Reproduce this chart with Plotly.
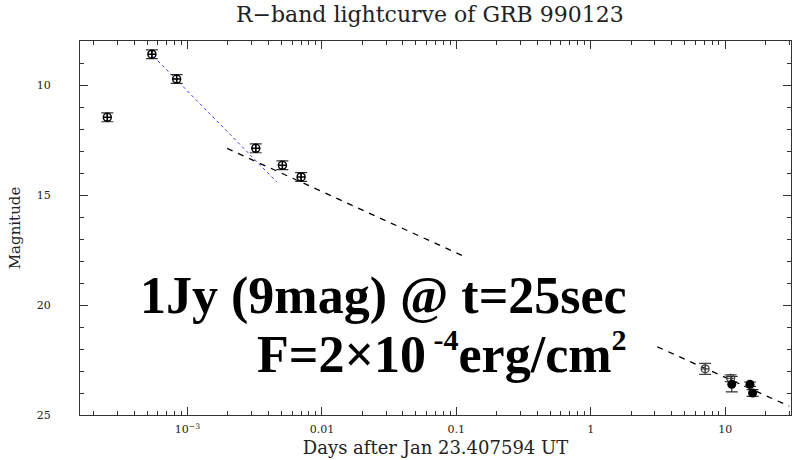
import plotly.graph_objects as go

# ---- data ----
early_t = [2.53e-4, 5.43e-4, 8.3e-4, 3.22e-3, 5.08e-3, 7.0e-3]
early_mag = [11.47, 8.6, 9.73, 12.88, 13.65, 14.18]
early_err = [0.2, 0.2, 0.2, 0.2, 0.2, 0.2]

late_open_t = [7.1, 11.0]
late_open_mag = [22.9, 23.33]
late_open_err = [0.25, 0.15]

late_fill_t = [11.2, 15.3, 16.0]
late_fill_mag = [23.6, 23.6, 24.0]
late_fill_err = [0.35, 0.1, 0.15]

flash_fit_t = [5.6e-4, 4.6e-3]
flash_fit_mag = [8.71, 14.4]

mid_fit_t = [1.97e-3, 0.115]
mid_fit_mag = [12.88, 17.8]

late_fit_t = [3.13, 30.0]
late_fit_mag = [21.9, 24.6]

x_tickvals = [1e-3, 0.01, 0.1, 1, 10]
x_ticktext = ["10<sup>−3</sup>", "0.01", "0.1", "1", "10"]
y_tickvals = [10, 15, 20, 25]

x_minor = [m * 10 ** e for e in range(-4, 2) for m in range(2, 10)]

serif = "DejaVu Serif"

fig = go.Figure()

fig.add_trace(go.Scatter(x=flash_fit_t, y=flash_fit_mag, mode="lines",
                         line=dict(color="#3a3aff", width=1, dash="dot"),
                         showlegend=False))
fig.add_trace(go.Scatter(x=mid_fit_t, y=mid_fit_mag, mode="lines",
                         line=dict(color="black", width=1.3, dash="6px,6px"),
                         showlegend=False))
fig.add_trace(go.Scatter(x=late_fit_t, y=late_fit_mag, mode="lines",
                         line=dict(color="black", width=1.3, dash="6px,6px"),
                         showlegend=False))

fig.add_trace(go.Scatter(x=early_t, y=early_mag, mode="markers",
                         marker=dict(symbol="circle-cross-open", size=8, color="black",
                                     line=dict(width=1.5, color="black")),
                         error_y=dict(type="data", array=early_err, color="#333",
                                      thickness=1.2, width=6),
                         showlegend=False))
fig.add_trace(go.Scatter(x=late_open_t, y=late_open_mag, mode="markers",
                         marker=dict(symbol="circle-cross-open", size=8, color="#444",
                                     line=dict(width=1.2, color="#444")),
                         error_y=dict(type="data", array=late_open_err, color="#444",
                                      thickness=1.2, width=6),
                         showlegend=False))
fig.add_trace(go.Scatter(x=late_fill_t, y=late_fill_mag, mode="markers",
                         marker=dict(symbol="circle", size=9, color="black"),
                         error_y=dict(type="data", array=late_fill_err, color="#333",
                                      thickness=1.2, width=6),
                         showlegend=False))

fig.add_annotation(text="1Jy (9mag) @ t=25sec", xref="paper", yref="paper",
                   x=0.772, y=0.317, xanchor="right", yanchor="middle", showarrow=False,
                   font=dict(family="Liberation Serif", size=52, color="black", weight="bold"))
fig.add_annotation(text="F=2×10<sup><span style=\"font-size:30px\"> -4</span></sup>erg/cm<sup><span style=\"font-size:30px\">2</span></sup>",
                   xref="paper", yref="paper",
                   x=0.772, y=0.166, xanchor="right", yanchor="middle", showarrow=False,
                   font=dict(family="Liberation Serif", size=52, color="black", weight="bold"))

fig.update_layout(
    width=796, height=460,
    margin=dict(l=80, r=5, t=41, b=45),
    paper_bgcolor="white", plot_bgcolor="white",
    title=dict(text="R−band lightcurve of GRB 990123", x=0.54, xanchor="center",
               y=0.97, yanchor="middle",
               font=dict(family=serif, size=22, color="#222")),
    font=dict(family=serif, color="#222"),
)

fig.update_xaxes(type="log", range=[-3.8, 1.49],
                 tickmode="array", tickvals=x_tickvals, ticktext=x_ticktext,
                 ticks="inside", ticklen=8, tickcolor="#333", tickwidth=1,
                 showline=True, linecolor="#333", linewidth=1, mirror="ticks",
                 showgrid=False, zeroline=False, ticklabelstandoff=4,
                 tickfont=dict(family=serif, size=11, color="#222"),
                 minor=dict(tickmode="array", tickvals=x_minor, ticks="inside",
                            ticklen=4, tickcolor="#333", showgrid=False),
                 title=dict(text="Days after Jan 23.407594 UT", standoff=6,
                            font=dict(family=serif, size=18, color="#222")))
fig.update_yaxes(range=[25, 8],
                 tickmode="array", tickvals=y_tickvals,
                 ticks="inside", ticklen=8, tickcolor="#333", tickwidth=1,
                 showline=True, linecolor="#333", linewidth=1, mirror="ticks",
                 showgrid=False, zeroline=False, ticklabelstandoff=26,
                 tickfont=dict(family=serif, size=11, color="#222"),
                 minor=dict(dtick=1, ticks="inside", ticklen=4, tickcolor="#333",
                            showgrid=False),
                 title=dict(text="Magnitude", standoff=12,
                            font=dict(family=serif, size=15, color="#222")))

fig.write_html("out.html")
